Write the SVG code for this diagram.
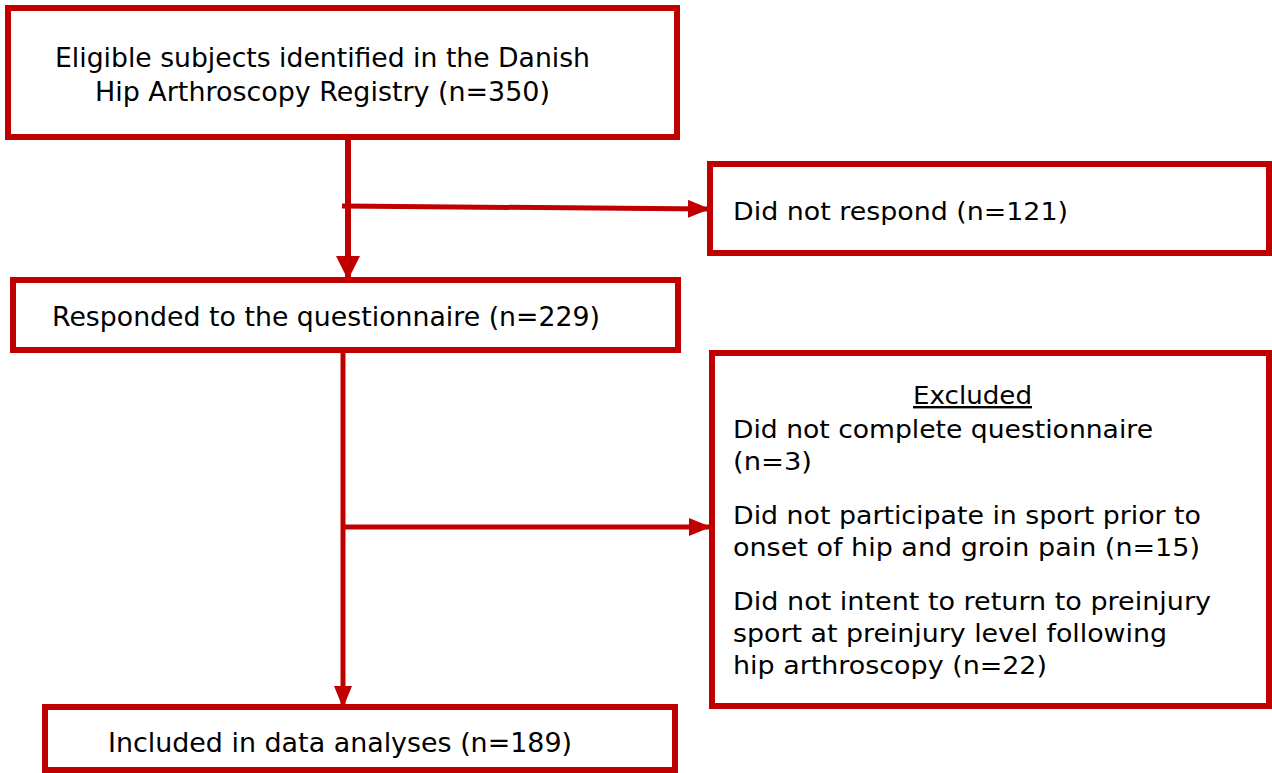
<svg xmlns="http://www.w3.org/2000/svg" width="1272" height="773" viewBox="0 0 1272 773">
<style>
.box{fill:#fff;stroke:#C00000;stroke-width:6}
.ln{stroke:#C00000;fill:none}
.t{font-family:"DejaVu Sans","Verdana",sans-serif;fill:#000}
.l{font-size:27px}
.r{font-size:24px}
</style>
<defs>
<marker id="ah" markerUnits="userSpaceOnUse" markerWidth="24" markerHeight="26" refX="22" refY="12" orient="auto">
<path d="M0,0 L24,12 L0,24 Z" fill="#C00000"/>
</marker>
<marker id="ahs" markerUnits="userSpaceOnUse" markerWidth="22" markerHeight="20" refX="20" refY="9" orient="auto">
<path d="M0,0 L22,9 L0,18 Z" fill="#C00000"/>
</marker>
</defs>
<g id="connectors">
<line class="ln" x1="348" y1="137" x2="348" y2="278" stroke-width="6" marker-end="url(#ah)"/>
<line class="ln" x1="342" y1="206" x2="708" y2="209" stroke-width="5" marker-end="url(#ahs)"/>
<line class="ln" x1="343" y1="350" x2="343" y2="706" stroke-width="5" marker-end="url(#ahs)"/>
<line class="ln" x1="343" y1="527" x2="709" y2="527" stroke-width="5" marker-end="url(#ahs)"/>
</g>
<g id="n1">
<rect class="box" x="8" y="8" width="669" height="129"/>
<text class="t l" x="55" y="67" textLength="535" lengthAdjust="spacingAndGlyphs">Eligible subjects identified in the Danish</text>
<text class="t l" x="95" y="101" textLength="455" lengthAdjust="spacingAndGlyphs">Hip Arthroscopy Registry (n=350)</text>
</g>
<g id="n2">
<rect class="box" x="710" y="164" width="559" height="89" stroke-width="5"/>
<text class="t r" x="733" y="220" textLength="335" lengthAdjust="spacingAndGlyphs">Did not respond (n=121)</text>
</g>
<g id="n3">
<rect class="box" x="13" y="280" width="665" height="70"/>
<text class="t l" x="52" y="326" textLength="548" lengthAdjust="spacingAndGlyphs">Responded to the questionnaire (n=229)</text>
</g>
<g id="n4">
<rect class="box" x="712" y="353" width="557" height="353" stroke-width="5"/>
<text class="t r" x="913" y="404" textLength="119" lengthAdjust="spacingAndGlyphs" text-decoration="underline">Excluded</text>
<text class="t r" x="733" y="438" textLength="420" lengthAdjust="spacingAndGlyphs">Did not complete questionnaire</text>
<text class="t r" x="733" y="470" textLength="79" lengthAdjust="spacingAndGlyphs">(n=3)</text>
<text class="t r" x="733" y="524" textLength="468" lengthAdjust="spacingAndGlyphs">Did not participate in sport prior to</text>
<text class="t r" x="733" y="556" textLength="467" lengthAdjust="spacingAndGlyphs">onset of hip and groin pain (n=15)</text>
<text class="t r" x="733" y="610" textLength="478" lengthAdjust="spacingAndGlyphs">Did not intent to return to preinjury</text>
<text class="t r" x="733" y="642" textLength="434" lengthAdjust="spacingAndGlyphs">sport at preinjury level following</text>
<text class="t r" x="733" y="674" textLength="314" lengthAdjust="spacingAndGlyphs">hip arthroscopy (n=22)</text>
</g>
<g id="n5">
<rect class="box" x="45" y="707" width="630" height="63"/>
<text class="t l" x="108" y="752" textLength="464" lengthAdjust="spacingAndGlyphs">Included in data analyses (n=189)</text>
</g>
</svg>
